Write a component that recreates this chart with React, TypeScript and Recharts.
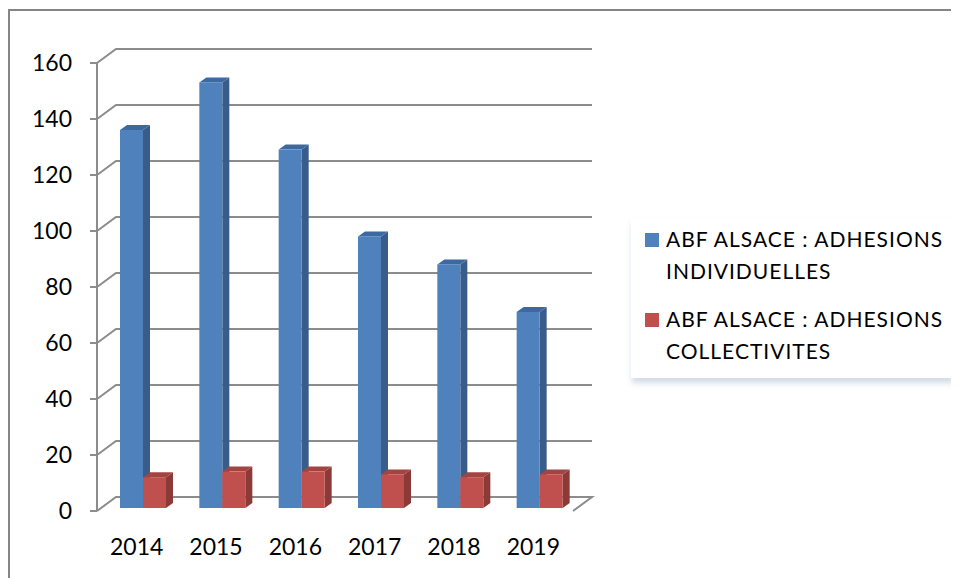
import { BarChart, Bar, XAxis, YAxis, CartesianGrid, Legend } from 'recharts';

const YEARS = ['2014', '2015', '2016', '2017', '2018', '2019'];
const INDIVIDUELLES = [135, 152, 128, 97, 87, 70];
const COLLECTIVITES = [11, 13, 13, 12, 11, 12];
const Y_TICKS = [0, 20, 40, 60, 80, 100, 120, 140, 160];
const BOUNDARY_TICKS = [0, 1, 2, 3, 4, 5, 6];

const SERIES = [
  { key: 'individuelles', lines: ['ABF ALSACE : ADHESIONS', 'INDIVIDUELLES'], front: '#4f81bd', side: '#385d8a', top: '#3d69a1' },
  { key: 'collectivites', lines: ['ABF ALSACE : ADHESIONS', 'COLLECTIVITES'], front: '#c0504d', side: '#8c3a38', top: '#a34441' },
];

const data = YEARS.map((year, i) => ({
  year,
  slot: i + 0.5,
  individuelles: INDIVIDUELLES[i],
  collectivites: COLLECTIVITES[i],
}));

const FONT = 'Lato, "Open Sans", sans-serif';
const GRID = '#8c8c8c';

// 3d look: wall offset and bar depth
const WALL_DX = 19;
const WALL_DY = 14;
const BAR_DX = 7;
const BAR_DY = 5;
const BAR_SHIFT_X = 6;
const BAR_SHIFT_Y = -3;

function Bar3D(props: any) {
  const { x, y, width, height, colors } = props;
  if (!height || height <= 0) return null;
  const x0 = x + BAR_SHIFT_X;
  const y0 = y + BAR_SHIFT_Y;
  const x1 = x0 + width;
  const y1 = y0 + height;
  return (
    <g>
      <path
        d={`M${x1},${y0} L${x1 + BAR_DX},${y0 - BAR_DY} L${x1 + BAR_DX},${y1 - BAR_DY} L${x1},${y1} Z`}
        fill={colors.side}
      />
      <path
        d={`M${x0},${y0} L${x0 + BAR_DX},${y0 - BAR_DY} L${x1 + BAR_DX},${y0 - BAR_DY} L${x1},${y0} Z`}
        fill={colors.top}
      />
      <rect x={x0} y={y0} width={width} height={height} fill={colors.front} />
    </g>
  );
}

function WallLine(props: any) {
  const { x1, y1, x2, y, height } = props;
  const isFloor = Math.abs(y1 - (y + height)) < 0.5;
  let d = `M${x1},${y1} L${x1 + WALL_DX},${y1 - WALL_DY} L${x2 + WALL_DX},${y1 - WALL_DY}`;
  if (isFloor) d += ` L${x2},${y1}`;
  return <path d={d} fill="none" stroke={GRID} strokeWidth={2} />;
}

function YearTick(props: any) {
  const { x, y, payload } = props;
  return (
    <text x={x} y={y + 36} dy="0.35em" textAnchor="middle" fontSize={23} fontFamily={FONT} fill="#000">
      {payload.value}
    </text>
  );
}

function LegendBox() {
  return (
    <div
      style={{
        background: '#fff',
        width: 322,
        height: 160,
        boxSizing: 'border-box',
        padding: '5px 0 0 35px',
        boxShadow: '1px 5px 6px rgba(110, 135, 175, 0.3)',
        fontFamily: FONT,
        fontSize: 21,
        letterSpacing: 1,
        lineHeight: '32px',
        color: '#000',
      }}
    >
      {SERIES.map((s, i) => (
        <div key={s.key} style={{ position: 'relative', marginTop: i === 0 ? 0 : 16 }}>
          <span
            style={{
              position: 'absolute',
              left: -21,
              top: 10,
              width: 14,
              height: 14,
              background: s.front,
            }}
          />
          {s.lines.map((l) => (
            <div key={l} style={{ whiteSpace: 'nowrap' }}>{l}</div>
          ))}
        </div>
      ))}
    </div>
  );
}

export default function App() {
  return (
    <div
      style={{
        position: 'relative',
        width: 951,
        height: 570,
        marginTop: 1,
        borderTop: '2px solid #858585',
        borderLeft: '2px solid #858585',
        background: '#fff',
        fontFamily: FONT,
      }}
    >
      <BarChart
        width={949}
        height={567}
        data={data}
        margin={{ top: 52, right: 386, bottom: 27, left: 27 }}
        barCategoryGap={17}
        barGap={0}
      >
        <CartesianGrid vertical={false} horizontal={(p: any) => <WallLine {...p} />} />
        <XAxis
          xAxisId="bounds"
          type="number"
          dataKey="slot"
          domain={[0, 6]}
          ticks={BOUNDARY_TICKS}
          tick={false}
          height={0}
          tickSize={8}
          axisLine={{ stroke: GRID, strokeWidth: 2 }}
          tickLine={{ stroke: GRID, strokeWidth: 2 }}
        />
        <XAxis
          dataKey="year"
          height={40}
          axisLine={false}
          tickLine={false}
          tickSize={0}
          tickMargin={0}
          tick={<YearTick />}
          interval={0}
        />
        <YAxis
          domain={[0, 160]}
          ticks={Y_TICKS}
          interval={0}
          width={60}
          tickSize={7}
          tickMargin={18}
          axisLine={{ stroke: GRID, strokeWidth: 2 }}
          tickLine={{ stroke: GRID, strokeWidth: 2 }}
          tick={{ fontSize: 23, fontFamily: FONT, fill: '#000' }}
        />
        <Legend
          layout="vertical"
          align="center"
          verticalAlign="middle"
          wrapperStyle={{ left: 621, top: 207, width: 322 }}
          content={() => <LegendBox />}
        />
        {SERIES.map((s) => (
          <Bar
            key={s.key}
            dataKey={s.key}
            name={s.lines.join(' ')}
            fill={s.front}
            isAnimationActive={false}
            shape={(p: any) => <Bar3D {...p} colors={s} />}
          />
        ))}
      </BarChart>
    </div>
  );
}
